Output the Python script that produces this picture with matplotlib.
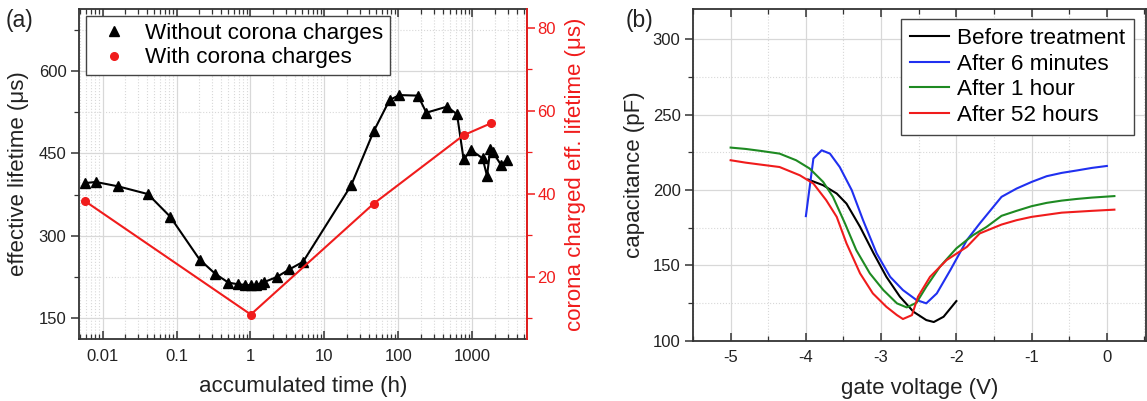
import matplotlib
matplotlib.use('Agg')
import matplotlib.pyplot as plt
from matplotlib.ticker import LogLocator, MultipleLocator, NullFormatter, FixedLocator, FixedFormatter

plt.rcParams['font.family'] = ['Liberation Sans', 'DejaVu Sans']
plt.rcParams['axes.unicode_minus'] = False

# ---------------- Panel (a) data ----------------
t_without = [0.0058, 0.0081, 0.0163, 0.041, 0.082, 0.205, 0.334, 0.503, 0.68, 0.84,
             1.01, 1.2, 1.4, 1.53, 2.25, 3.35, 5.15, 23.0, 46.3, 76, 103, 184,
             239, 455, 621, 762, 960, 1377, 1580, 1750, 1900, 2443, 2951]
tau_without = [396, 398, 390, 376, 335, 257, 231, 215, 212, 211,
               210, 211, 213, 216, 225, 239, 253, 392, 490, 547, 556, 555,
               524, 535, 521, 439, 456, 441, 409, 458, 452, 429, 438]
t_with = [0.0058, 1.01, 46.3, 762, 1800]
tau_with = [38.2, 10.9, 37.6, 54.1, 57.0]

# ---------------- Panel (b) data ----------------
v_before = [-3.97, -3.77, -3.59, -3.46, -3.28, -3.10, -2.93, -2.75, -2.57, -2.40, -2.30, -2.17, -2.00]
c_before = [207.0, 203.2, 197.7, 191.0, 175.6, 158.0, 142.4, 129.2, 119.2, 113.7, 112.4, 115.9, 126.3]

v_6min = [-4.00, -3.90, -3.79, -3.68, -3.55, -3.39, -3.24, -3.06, -2.88, -2.71, -2.53, -2.40,
          -2.26, -2.08, -1.86, -1.69, -1.40, -1.20, -1.00, -0.80, -0.60, -0.40, -0.20, 0.00]
c_6min = [182.7, 220.9, 226.4, 224.2, 215.3, 199.9, 180.0, 158.0, 142.4, 133.6, 127.0, 124.8,
          131.4, 146.9, 166.8, 177.8, 195.5, 201.0, 205.4, 209.2, 211.4, 213.0, 214.7, 216.0]

v_1h = [-5.00, -4.80, -4.60, -4.35, -4.13, -3.95, -3.77, -3.64, -3.48, -3.33, -3.15, -2.97,
        -2.79, -2.66, -2.53, -2.40, -2.22, -2.00, -1.78, -1.60, -1.40, -1.20, -1.00, -0.80,
        -0.60, -0.40, -0.20, 0.10]
c_1h = [228.2, 227.3, 226.0, 224.2, 219.8, 214.3, 205.4, 195.5, 177.8, 160.1, 144.7, 133.6,
        124.8, 122.1, 125.2, 135.8, 149.0, 161.3, 170.0, 175.5, 182.9, 186.2, 189.3, 191.5,
        193.0, 194.1, 195.0, 196.0]

v_52h = [-5.00, -4.80, -4.60, -4.35, -4.08, -3.90, -3.73, -3.59, -3.46, -3.28, -3.11, -2.93,
         -2.79, -2.71, -2.59, -2.51, -2.35, -2.13, -1.86, -1.69, -1.40, -1.20, -1.00, -0.60,
         -0.20, 0.10]
c_52h = [219.8, 218.2, 216.9, 215.3, 209.8, 204.3, 193.3, 182.2, 164.6, 144.7, 131.4, 122.5,
         117.0, 114.4, 117.0, 129.2, 142.4, 153.5, 162.3, 171.2, 177.1, 180.0, 182.2, 185.0,
         186.2, 187.0]

legend_a = ['Without corona charges', 'With corona charges']
legend_b = ['Before treatment', 'After 6 minutes', 'After 1 hour', 'After 52 hours']

RED = '#f01c1c'
BLUE = '#2030f0'
GREEN = '#1e8a22'
SPINE = '#333333'
GRID = '#d8d8d8'

W, H = 1147, 401
fig = plt.figure(figsize=(W / 100, H / 100), dpi=100)

TICK_FS = 12
LAB_FS = 16
LEG_FS = 16.2


def style_common(ax):
    for s in ax.spines.values():
        s.set_color(SPINE)
        s.set_linewidth(1.3)
    ax.grid(True, which='major', color=GRID, linewidth=0.9, linestyle='-')
    ax.grid(True, which='minor', color=GRID, linewidth=0.8, linestyle=':')
    ax.set_axisbelow(True)


# ---------------- Panel (a) ----------------
ax1 = fig.add_axes([79 / W, 1 - 339 / H, (526.5 - 79) / W, (339 - 9) / H])
ax1.set_xscale('log')
ax1.set_xlim(0.0048, 5400)
ax1.set_ylim(112.5, 712.5)
style_common(ax1)
ax1.yaxis.set_major_locator(MultipleLocator(150))
ax1.yaxis.set_minor_locator(MultipleLocator(75))
ax1.xaxis.set_major_locator(FixedLocator([0.01, 0.1, 1, 10, 100, 1000]))
ax1.xaxis.set_major_formatter(FixedFormatter(['0.01', '0.1', '1', '10', '100', '1000']))
ax1.xaxis.set_minor_locator(LogLocator(base=10, subs=range(2, 10), numticks=20))
ax1.xaxis.set_minor_formatter(NullFormatter())
ax1.tick_params(axis='x', which='both', direction='in', top=True, bottom=True,
                labelsize=TICK_FS, pad=7, colors=SPINE, labelcolor='#222222')
ax1.tick_params(axis='x', which='major', length=6, width=1.1)
ax1.tick_params(axis='x', which='minor', length=3.5, width=0.9)
ax1.tick_params(axis='y', which='both', direction='out', left=True, right=False,
                labelsize=TICK_FS, pad=3, colors=SPINE, labelcolor='#222222')
ax1.tick_params(axis='y', which='major', length=6, width=1.1)
ax1.tick_params(axis='y', which='minor', length=3.5, width=0.9)

l1, = ax1.plot(t_without, tau_without, color='black', linewidth=1.5,
               marker='^', markersize=7.5, markerfacecolor='black', markeredgecolor='black',
               zorder=4)
ax1.set_xlabel('accumulated time (h)', fontsize=LAB_FS, color='#222222')
ax1.set_ylabel('effective lifetime (\u03bcs)', fontsize=LAB_FS, color='#222222')
ax1.xaxis.set_label_coords(0.5, -0.112)
ax1.yaxis.set_label_coords(-0.112, 0.5)

ax2 = ax1.twinx()
ax2.set_ylim(5, 84.5)
ax2.yaxis.set_major_locator(MultipleLocator(20))
ax2.yaxis.set_minor_locator(MultipleLocator(10))
for s in ax2.spines.values():
    s.set_visible(False)
ax2.spines['right'].set_visible(True)
ax2.spines['right'].set_color(RED)
ax2.spines['right'].set_linewidth(1.3)
ax2.tick_params(axis='y', which='both', direction='out', colors=RED, labelcolor=RED,
                labelsize=TICK_FS, pad=2)
ax2.tick_params(axis='y', which='major', length=6, width=1.1)
ax2.tick_params(axis='y', which='minor', length=3.5, width=0.9)
l2, = ax2.plot(t_with, tau_with, color=RED, linewidth=1.5, marker='o', markersize=5.5,
               markerfacecolor=RED, markeredgecolor=RED, zorder=4)
ax2.set_ylabel('corona charged eff. lifetime (\u03bcs)', fontsize=LAB_FS, color=RED)
ax2.yaxis.set_label_coords(1.086, 0.5)

h1 = plt.Line2D([], [], color='black', marker='^', linestyle='none', markersize=7.5)
h2 = plt.Line2D([], [], color=RED, marker='o', linestyle='none', markersize=5.5)
leg = ax2.legend([h1, h2], legend_a, loc='upper left', bbox_to_anchor=(0.016, 0.978),
                 fontsize=LEG_FS, frameon=True, fancybox=False, edgecolor='#444444',
                 framealpha=1, borderpad=0.3, handletextpad=0.42, handlelength=1.9,
                 labelspacing=0.15, borderaxespad=0.0)
leg.get_frame().set_linewidth(1.0)

fig.text(6 / W, 1 - 20 / H, '(a)', fontsize=16.5, va='center', ha='left', color='#222222')

# ---------------- Panel (b) ----------------
ax3 = fig.add_axes([693 / W, 1 - 340.7 / H, (1146 - 693) / W, (340.7 - 9.3) / H])
ax3.set_xlim(-5.5, 0.52)
ax3.set_ylim(100, 320)
style_common(ax3)
ax3.xaxis.set_major_locator(MultipleLocator(1))
ax3.xaxis.set_minor_locator(MultipleLocator(0.5))
ax3.yaxis.set_major_locator(MultipleLocator(50))
ax3.yaxis.set_minor_locator(MultipleLocator(25))
ax3.tick_params(axis='x', which='both', direction='in', top=True, bottom=True,
                labelsize=TICK_FS, pad=7, colors=SPINE, labelcolor='#222222')
ax3.tick_params(axis='y', which='both', direction='out', left=True, labelsize=TICK_FS,
                pad=3, colors=SPINE, labelcolor='#222222')
ax3.tick_params(which='major', length=6, width=1.1)
ax3.tick_params(which='minor', length=3.5, width=0.9)

lb0, = ax3.plot(v_before, c_before, color='black', linewidth=1.5)
lb1, = ax3.plot(v_6min, c_6min, color=BLUE, linewidth=1.5)
lb2, = ax3.plot(v_1h, c_1h, color=GREEN, linewidth=1.5)
lb3, = ax3.plot(v_52h, c_52h, color=RED, linewidth=1.5)
ax3.set_xlabel('gate voltage (V)', fontsize=LAB_FS, color='#222222')
ax3.set_ylabel('capacitance (pF)', fontsize=LAB_FS, color='#222222')
ax3.xaxis.set_label_coords(0.5, -0.112)
ax3.yaxis.set_label_coords(-0.106, 0.5)

leg2 = ax3.legend([lb0, lb1, lb2, lb3], legend_b, loc='upper right',
                  bbox_to_anchor=(0.974, 0.97), fontsize=LEG_FS, frameon=True,
                  fancybox=False, edgecolor='#444444', framealpha=1, borderpad=0.4,
                  handletextpad=0.35, handlelength=1.75, labelspacing=0.2, borderaxespad=0.0)
leg2.get_frame().set_linewidth(1.0)

fig.text(626 / W, 1 - 20 / H, '(b)', fontsize=16.5, va='center', ha='left', color='#222222')

fig.savefig('out.png', dpi=100)
